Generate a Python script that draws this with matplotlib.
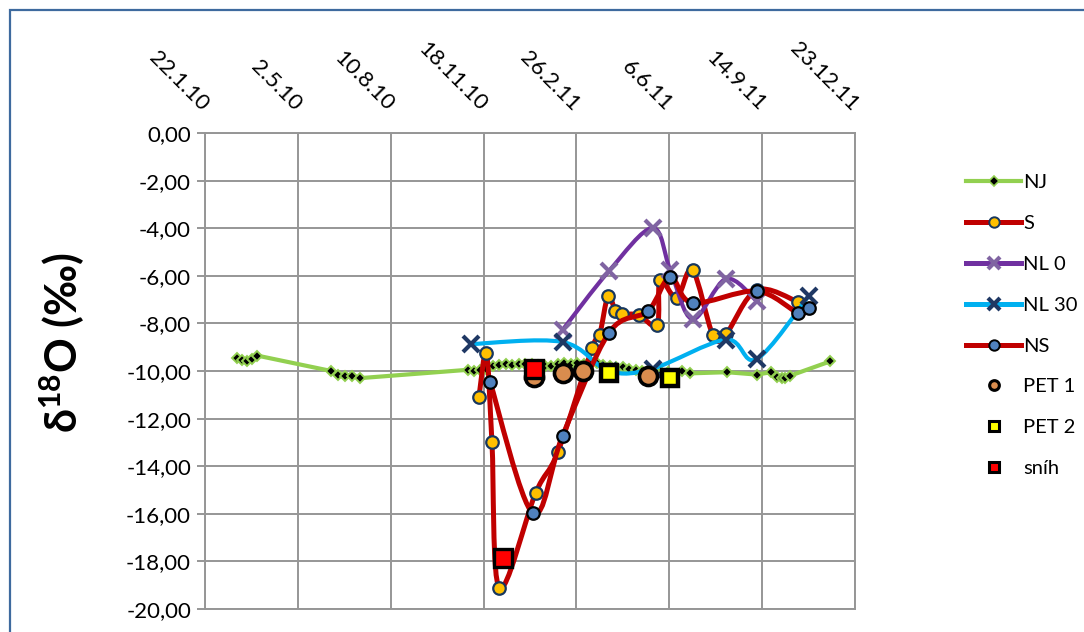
import numpy as np
import pandas as pd
import matplotlib
matplotlib.use("Agg")
import matplotlib.pyplot as plt
import matplotlib.dates as mdates
from matplotlib.path import Path
from matplotlib.patches import PathPatch, Rectangle
from matplotlib.lines import Line2D

plt.rcParams['font.family'] = ['Lato', 'DejaVu Sans']
plt.rcParams['mathtext.fontset'] = 'custom'
plt.rcParams['mathtext.rm'] = 'Lato:bold'
plt.rcParams['mathtext.bf'] = 'Lato:bold'

# ---- data -------------------------------------------------------------
tick_labels = ["22.1.10", "2.5.10", "10.8.10", "18.11.10",
               "26.2.11", "6.6.11", "14.9.11", "23.12.11"]
y_ticks = [-20, -18, -16, -14, -12, -10, -8, -6, -4, -2, 0]

nj_dates = ["2010-02-25", "2010-03-03", "2010-03-08", "2010-03-14", "2010-03-19",
            "2010-06-07", "2010-06-14", "2010-06-22", "2010-06-29", "2010-07-08",
            "2010-11-01", "2010-11-08", "2010-11-14", "2010-11-21", "2010-11-28",
            "2010-12-05", "2010-12-12", "2010-12-19", "2010-12-26", "2011-01-02",
            "2011-01-09", "2011-01-16", "2011-01-23", "2011-01-30", "2011-02-06",
            "2011-02-13", "2011-02-20", "2011-02-27", "2011-03-06", "2011-03-13",
            "2011-03-20", "2011-03-27", "2011-04-03", "2011-04-10", "2011-04-17",
            "2011-04-24", "2011-05-01", "2011-05-08", "2011-05-15", "2011-05-22",
            "2011-05-29", "2011-06-05", "2011-06-20", "2011-06-28", "2011-08-07",
            "2011-09-08", "2011-09-24", "2011-09-30", "2011-10-05", "2011-10-09",
            "2011-10-14", "2011-11-26"]
nj_vals = [-9.45, -9.55, -9.60, -9.50, -9.35,
           -10.00, -10.15, -10.20, -10.20, -10.30,
           -9.95, -10.00, -9.95, -9.90, -9.80,
           -9.75, -9.70, -9.75, -9.70, -9.72,
           -9.70, -9.75, -9.80, -9.78, -9.70,
           -9.68, -9.72, -9.65, -9.70, -9.62,
           -9.68, -9.75, -9.80, -9.85, -9.82,
           -9.90, -9.95, -10.00, -10.05, -10.02,
           -10.08, -10.05, -10.00, -10.10, -10.05,
           -10.15, -10.05, -10.25, -10.30, -10.30,
           -10.20, -9.60]

s_dates = ["2010-11-13", "2010-11-21", "2010-11-27", "2010-12-05", "2011-01-13",
           "2011-02-06", "2011-03-15", "2011-03-23", "2011-04-01", "2011-04-09",
           "2011-04-16", "2011-05-04", "2011-05-24", "2011-05-27", "2011-06-14",
           "2011-07-01", "2011-07-23", "2011-08-06", "2011-09-08", "2011-10-23"]
s_vals = [-11.10, -9.24, -12.98, -19.12, -15.13,
          -13.40, -9.03, -8.49, -6.85, -7.48,
          -7.60, -7.65, -8.07, -6.18, -6.93,
          -5.76, -8.49, -8.45, -6.60, -7.10]

nl0_dates = ["2011-02-11", "2011-04-02", "2011-05-19", "2011-06-07",
             "2011-07-01", "2011-08-06", "2011-09-08"]
nl0_vals = [-8.28, -5.80, -3.99, -5.75, -7.82, -6.13, -7.05]

nl30_dates = ["2010-11-04", "2011-02-11", "2011-04-02", "2011-05-19",
              "2011-08-06", "2011-09-08", "2011-11-03"]
nl30_vals = [-8.87, -8.78, -10.00, -9.90, -8.68, -9.50, -6.85]

ns_dates = ["2010-11-25", "2011-01-10", "2011-02-11", "2011-04-02", "2011-05-14",
            "2011-06-07", "2011-07-01", "2011-09-08", "2011-10-23", "2011-11-03"]
ns_vals = [-10.46, -15.97, -12.73, -8.40, -7.48, -6.05, -7.14, -6.64, -7.56, -7.35]

pet1_dates = ["2011-01-11", "2011-02-12", "2011-03-05", "2011-05-14"]
pet1_vals = [-10.25, -10.10, -10.02, -10.22]

pet2_dates = ["2011-04-02", "2011-06-07"]
pet2_vals = [-10.10, -10.28]

snih_dates = ["2010-12-09", "2011-01-11"]
snih_vals = [-17.86, -9.90]


# ---- helpers ----------------------------------------------------------
def to_num(dates):
    return mdates.date2num(pd.to_datetime(dates).to_pydatetime())


def smooth_path(x, y):
    """Cubic Bezier path through the points (Catmull-Rom tangents)."""
    pts = np.column_stack([x, y]).astype(float)
    n = len(pts)
    verts = [pts[0]]
    codes = [Path.MOVETO]
    for i in range(n - 1):
        p0 = pts[i - 1] if i > 0 else pts[i]
        p1, p2 = pts[i], pts[i + 1]
        p3 = pts[i + 2] if i + 2 < n else pts[i + 1]
        verts += [p1 + (p2 - p0) / 6.0, p2 - (p3 - p1) / 6.0, p2]
        codes += [Path.CURVE4] * 3
    return Path(verts, codes)


# ---- figure -----------------------------------------------------------
W, H = 1084, 632
fig = plt.figure(figsize=(W / 100, H / 100), dpi=100)
fig.patch.set_facecolor("white")
top = 1 - 10 / H
fig.patches.append(Rectangle((10 / W, -0.2), 2.0, top + 0.2,
                             transform=fig.transFigure, fill=False,
                             edgecolor="#3E6A9E", lw=1.6, zorder=0))

ax = fig.add_axes([205 / W, 1 - 609 / H, 650 / W, 476 / H])

grid_c = "#969696"
tick_pos = to_num(pd.to_datetime(tick_labels, format="%d.%m.%y"))
ax.set_xlim(tick_pos[0], tick_pos[-1])
ax.set_ylim(-20, 0)
ax.xaxis.tick_top()
ax.set_xticks(tick_pos)
ax.set_xticklabels(tick_labels, rotation=-45, ha="right", va="center",
                   rotation_mode="anchor", fontsize=16)
ax.tick_params(axis="x", length=0, pad=18)
ax.set_yticks(y_ticks)
ax.set_yticklabels([f"{v:.2f}".replace(".", ",") for v in y_ticks], fontsize=16)
ax.tick_params(axis="y", length=6, width=1.4, color=grid_c, pad=4)
ax.grid(True, color=grid_c, lw=1.4)
ax.set_axisbelow(True)
for sp in ax.spines.values():
    sp.set_color(grid_c)
    sp.set_linewidth(1.4)

fig.text(62 / W, 1 - 343 / H, "δ$^{18}$O (‰)", rotation=90,
         fontsize=31, fontweight="bold", ha="center", va="center")

# ---- series -----------------------------------------------------------
z = 3
# NJ: straight segments
x = to_num(nj_dates)
ax.plot(x, nj_vals, color="#92D050", lw=3.0, zorder=z)
ax.plot(x, nj_vals, ls="none", marker="D", ms=5.5, mfc="black",
        mec="#92D050", mew=1.4, zorder=z + 0.1)

smooth_series = [
    (s_dates, s_vals, "#C00000", 3.6,
     dict(marker="o", ms=9, mfc="#FFC000", mec="#17375E", mew=1.6)),
    (nl0_dates, nl0_vals, "#7030A0", 3.0,
     dict(marker="x", ms=11, mec="#8064A2", mew=3.0)),
    (nl30_dates, nl30_vals, "#00B0F0", 3.0,
     dict(marker="x", ms=11, mec="#1F3864", mew=3.0)),
    (ns_dates, ns_vals, "#C00000", 3.6,
     dict(marker="o", ms=9, mfc="#4F81BD", mec="black", mew=1.6)),
]
for i, (d, v, col, lw, mk) in enumerate(smooth_series):
    zz = z + 1 + i
    x = to_num(d)
    ax.add_patch(PathPatch(smooth_path(x, v), fill=False, edgecolor=col,
                           lw=lw, capstyle="round", joinstyle="round",
                           zorder=zz))
    ax.plot(x, v, ls="none", zorder=zz + 0.5, **mk)

ax.plot(to_num(pet1_dates), pet1_vals, ls="none", marker="o", ms=13,
        mfc="#D98C4E", mec="black", mew=2.6, zorder=10)
ax.plot(to_num(pet2_dates), pet2_vals, ls="none", marker="s", ms=11,
        mfc="#FFFF00", mec="black", mew=3.2, zorder=11)
ax.plot(to_num(snih_dates), snih_vals, ls="none", marker="s", ms=13,
        mfc="#FF0000", mec="black", mew=2.4, zorder=12)

# ---- legend -----------------------------------------------------------
handles = [
    Line2D([], [], color="#92D050", lw=3.0, marker="D", ms=5, mfc="black",
           mec="#92D050", mew=1.2),
    Line2D([], [], color="#C00000", lw=3.6, marker="o", ms=7.5,
           mfc="#FFC000", mec="#17375E", mew=1.4),
    Line2D([], [], color="#7030A0", lw=3.6, marker="x", ms=8,
           mec="#8064A2", mew=3.0),
    Line2D([], [], color="#00B0F0", lw=3.6, marker="x", ms=8,
           mec="#1F3864", mew=3.0),
    Line2D([], [], color="#C00000", lw=3.6, marker="o", ms=7.5,
           mfc="#4F81BD", mec="black", mew=1.4),
    Line2D([], [], ls="none", marker="o", ms=7, mfc="#D98C4E",
           mec="black", mew=2.2),
    Line2D([], [], ls="none", marker="s", ms=6.5, mfc="#FFFF00",
           mec="black", mew=2.2),
    Line2D([], [], ls="none", marker="s", ms=6.5, mfc="#FF0000",
           mec="black", mew=2.2),
]
labels = ["NJ", "S", "NL 0", "NL 30", "NS", "PET 1", "PET 2", "sníh"]
fig.legend(handles, labels, loc="upper left",
           bbox_to_anchor=(956 / W, 1 - 164 / H), frameon=False,
           fontsize=14.5, handlelength=2.75, handletextpad=0.1,
           labelspacing=1.18, borderpad=0, numpoints=1)

fig.savefig("out.png", dpi=100, facecolor="white")
